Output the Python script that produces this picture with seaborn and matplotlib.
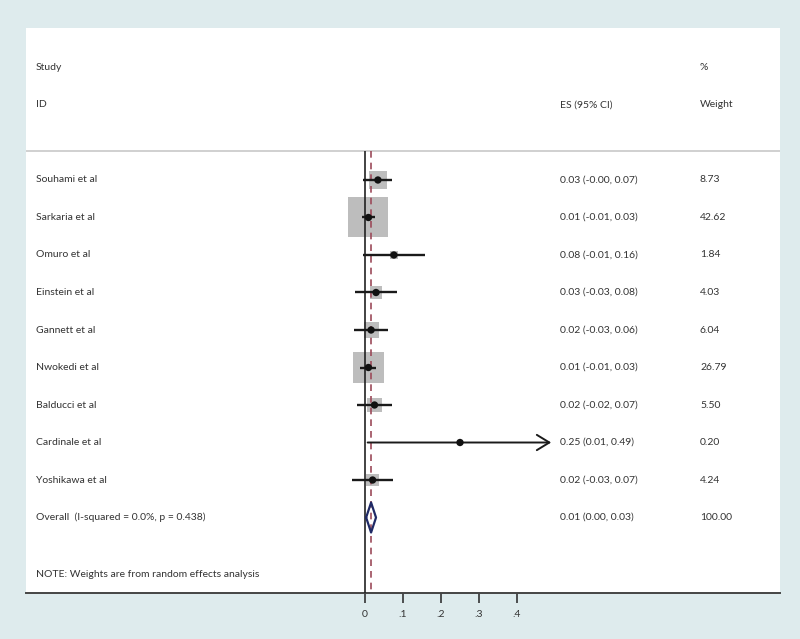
import matplotlib
matplotlib.use('Agg')
import matplotlib.pyplot as plt
import matplotlib.transforms as mtransforms
import numpy as np
import pandas as pd
import seaborn as sns

studies = ['Souhami et al', 'Sarkaria et al', 'Omuro et al', 'Einstein et al',
           'Gannett et al', 'Nwokedi et al', 'Balducci et al', 'Cardinale et al',
           'Yoshikawa et al']
es = [0.034, 0.009, 0.076, 0.029, 0.016, 0.009, 0.025, 0.250, 0.020]
lo = [-0.004, -0.007, -0.005, -0.026, -0.028, -0.013, -0.022, 0.007, -0.034]
hi = [0.070, 0.027, 0.158, 0.083, 0.061, 0.029, 0.071, 0.490, 0.074]
es_text = ['0.03 (-0.00, 0.07)', '0.01 (-0.01, 0.03)', '0.08 (-0.01, 0.16)',
           '0.03 (-0.03, 0.08)', '0.02 (-0.03, 0.06)', '0.01 (-0.01, 0.03)',
           '0.02 (-0.02, 0.07)', '0.25 (0.01, 0.49)', '0.02 (-0.03, 0.07)']
weights = [8.73, 42.62, 1.84, 4.03, 6.04, 26.79, 5.50, 0.20, 4.24]
weight_text = ['8.73', '42.62', '1.84', '4.03', '6.04', '26.79', '5.50', '0.20', '4.24']

overall_es = 0.016
overall_lo = 0.003
overall_hi = 0.029
overall_label = 'Overall  (I-squared = 0.0%, p = 0.438)'
overall_text = '0.01 (0.00, 0.03)'
overall_weight = '100.00'
note = 'NOTE: Weights are from random effects analysis'
xticks = [0, 0.1, 0.2, 0.3, 0.4]
xticklabels = ['0', '.1', '.2', '.3', '.4']

df = pd.DataFrame({'study': studies, 'es': es, 'lo': lo, 'hi': hi,
                   'weight': weights, 'row': np.arange(1, len(studies) + 1)})

sns.set_style('white')
plt.rcParams['font.family'] = ['Lato', 'DejaVu Sans']

fig = plt.figure(figsize=(8, 6.39), dpi=100, facecolor='#deebed')
ax = fig.add_axes([26 / 800, 1 - 593 / 639, (780 - 26) / 800, (593 - 28) / 639])
ax.set_facecolor('white')

px = 0.1 / 38.0
ax.set_xlim((26 - 365) * px, (780 - 365) * px)
ax.set_ylim(12.013, -3.053)

sep_y = 0.227
ax.axhline(sep_y, color='#c8c8c8', lw=1.2)
ax.vlines(0, sep_y, 12.013, color='#222222', lw=1.2, zorder=3)
ax.vlines(overall_es, sep_y, 12.013, color='#9c4a5a', lw=1.2,
          linestyles=(0, (4, 3)), zorder=3)

# weight boxes, area proportional to weight
side_max = 40 * 0.72
sns.scatterplot(data=df, x='es', y='row', size='weight',
                sizes=(0, side_max ** 2), size_norm=(0, max(weights)),
                marker='s', color='#bdbdbd', edgecolor='none', linewidth=0,
                legend=False, ax=ax, zorder=2)

arrow_df = df[df['hi'] > 0.45]
line_df = df[df['hi'] <= 0.45]
ax.hlines(line_df['row'], line_df['lo'], line_df['hi'], color='#1a1a1a', lw=1.7, zorder=4)
for _, r in arrow_df.iterrows():
    ax.annotate('', xy=(r['hi'], r['row']), xytext=(r['lo'], r['row']),
                arrowprops=dict(arrowstyle='->,head_length=0.9,head_width=0.55',
                                color='#1a1a1a', lw=1.4, shrinkA=0, shrinkB=0),
                zorder=4)
sns.scatterplot(data=df, x='es', y='row', color='#111111', s=28,
                edgecolor='none', legend=False, ax=ax, zorder=5)

orow = len(studies) + 1
dx = [overall_lo, overall_es, overall_hi, overall_es, overall_lo]
dy = [orow, orow - 0.4, orow, orow + 0.4, orow]
ax.plot(dx, dy, color='#1f2a66', lw=1.6, zorder=5)

# text columns
trans = mtransforms.blended_transform_factory(fig.transFigure, ax.transData)
fs = 7.5
tc = '#333333'
x_lab, x_es, x_w = 36 / 800, 560 / 800, 700 / 800
ax.text(x_lab, -2, 'Study', transform=trans, va='center', fontsize=fs, color=tc)
ax.text(x_lab, -1, 'ID', transform=trans, va='center', fontsize=fs, color=tc)
ax.text(x_es, -1, 'ES (95% CI)', transform=trans, va='center', fontsize=fs, color=tc)
ax.text(x_w, -2, '%', transform=trans, va='center', fontsize=fs, color=tc)
ax.text(x_w, -1, 'Weight', transform=trans, va='center', fontsize=fs, color=tc)
for i in range(len(studies)):
    ax.text(x_lab, i + 1, studies[i], transform=trans, va='center', fontsize=fs, color=tc)
    ax.text(x_es, i + 1, es_text[i], transform=trans, va='center', fontsize=fs, color=tc)
    ax.text(x_w, i + 1, weight_text[i], transform=trans, va='center', fontsize=fs, color=tc)
ax.text(x_lab, orow, overall_label, transform=trans, va='center', fontsize=fs, color=tc)
ax.text(x_es, orow, overall_text, transform=trans, va='center', fontsize=fs, color=tc)
ax.text(x_w, orow, overall_weight, transform=trans, va='center', fontsize=fs, color=tc)
ax.text(x_lab, 11.53, note, transform=trans, va='center', fontsize=fs, color=tc)

for s in ['top', 'left', 'right']:
    ax.spines[s].set_visible(False)
ax.spines['bottom'].set_color('#444444')
ax.spines['bottom'].set_linewidth(1.4)
ax.set_yticks([])
ax.set_xticks(xticks)
ax.set_xticklabels(xticklabels, fontsize=fs, color=tc)
ax.tick_params(axis='x', direction='out', length=7, width=1.2, color='#333333',
               bottom=True, pad=5)
ax.set_xlabel('')
ax.set_ylabel('')

fig.savefig('out.png', dpi=100, facecolor=fig.get_facecolor())
